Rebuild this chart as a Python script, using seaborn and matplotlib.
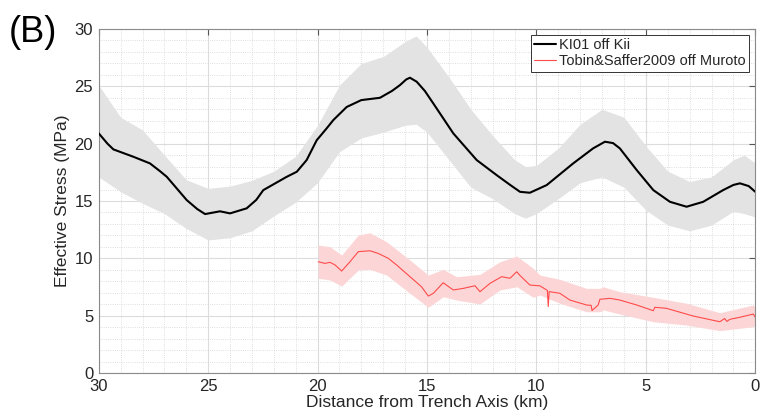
import matplotlib
matplotlib.use('Agg')
import matplotlib.pyplot as plt
from matplotlib.ticker import MultipleLocator
import seaborn as sns

# KI01 off Kii: centre line (distance km, effective stress MPa)
kii_x = [30.0, 29.6, 29.33, 28.42, 27.66, 27.2, 26.89, 25.98, 25.5, 25.14, 24.46, 24.0, 23.24,
         22.8, 22.48, 21.41, 20.95, 20.5, 20.04, 19.6, 19.28, 18.67, 18.0, 17.15, 16.6,
         16.24, 15.95, 15.78, 15.47, 15.1, 14.71, 13.8, 12.73, 11.82, 11.2, 10.75, 10.3, 9.53,
         8.32, 7.41, 6.87, 6.5, 6.19, 5.42, 4.66, 3.9, 3.14, 2.38, 1.47, 1.0, 0.7, 0.3, 0.0]
kii_y = [20.9, 20.0, 19.5, 18.86, 18.28, 17.6, 17.11, 15.08, 14.3, 13.86, 14.1, 13.92, 14.36,
         15.1, 15.95, 17.11, 17.55, 18.57, 20.3, 21.3, 22.06, 23.2, 23.8, 24.0, 24.6,
         25.1, 25.6, 25.75, 25.4, 24.6, 23.5, 20.9, 18.57, 17.26, 16.4, 15.8, 15.72, 16.39,
         18.28, 19.59, 20.17, 20.05, 19.59, 17.7, 15.95, 14.93, 14.5, 14.93, 15.95, 16.4, 16.54, 16.3, 15.8]

# KI01 uncertainty band
kii_band_x = [30, 29, 28, 27, 26, 25, 24, 23, 22, 21, 20, 19, 18, 17, 16, 15.5,
              15, 14, 13, 12, 11, 10.5, 10, 9, 8, 7, 6, 5, 4, 3, 2, 1, 0.5, 0]
kii_hi = [25.1, 22.3, 21.2, 19.0, 16.85, 16.1, 16.3, 16.8, 17.6, 18.9, 21.6, 25.1,
          27.0, 27.6, 28.9, 29.4, 28.4, 25.8, 23.0, 20.7, 18.6, 18.0, 18.1, 19.6,
          21.7, 23.0, 22.3, 19.8, 17.6, 16.7, 17.1, 18.6, 19.0, 18.3]
kii_lo = [17.1, 15.8, 14.8, 13.9, 12.6, 11.6, 11.8, 12.4, 13.7, 14.9, 16.6, 19.3,
          20.5, 21.0, 21.6, 21.7, 21.0, 18.6, 16.2, 15.2, 13.9, 13.5, 13.9, 15.2,
          16.6, 17.1, 16.2, 14.2, 12.9, 12.4, 12.9, 14.1, 13.9, 13.6]

# Tobin & Saffer 2009 off Muroto: centre line
muroto_x = [19.97, 19.66, 19.43, 19.2, 18.9, 18.52, 18.14, 17.61, 17.23, 16.77,
            16.39, 15.78, 15.25, 14.94, 14.71, 14.26, 13.8, 13.34, 12.81, 12.58,
            12.12, 11.59, 11.21, 10.9, 10.75, 10.3, 9.84, 9.5, 9.46, 9.42, 8.93,
            8.47, 7.71, 7.5, 7.46, 7.18, 7.1, 6.64, 6.19, 5.42, 4.66, 4.59, 4.06,
            2.84, 1.62, 1.4, 1.3, 1.16, 0.7, 0.09, 0.0]
muroto_y = [9.7, 9.56, 9.65, 9.42, 8.89, 9.7, 10.58, 10.66, 10.43, 10.0,
            9.42, 8.4, 7.52, 6.71, 6.95, 7.87, 7.24, 7.38, 7.61, 7.09,
            7.82, 8.4, 8.26, 8.83, 8.5, 7.67, 7.6, 7.2, 5.8, 7.1, 6.95,
            6.36, 5.93, 5.9, 5.45, 5.93, 6.43, 6.51, 6.36, 5.93, 5.43, 5.73, 5.64,
            4.97, 4.47, 4.75, 4.5, 4.68, 4.86, 5.14, 4.86]

# Muroto uncertainty band
muroto_band_x = [19.97, 19.43, 18.9, 18.14, 17.61, 16.85, 15.78, 14.94, 14.26, 13.65,
                 12.58, 11.67, 10.9, 10.15, 9.84, 8.93, 7.71, 7.1, 6.95, 6.19,
                 4.66, 3.14, 1.62, 0.09, 0.0]
muroto_hi = [11.16, 11.01, 10.29, 12.03, 12.23, 11.45, 9.85, 8.54, 9.04, 8.4,
             8.6, 9.7, 10.2, 9.13, 8.54, 8.17, 7.38, 7.38, 7.52, 7.09,
             6.6, 6.08, 5.26, 5.93, 5.7]
muroto_lo = [8.26, 8.11, 7.58, 8.98, 9.04, 8.54, 6.95, 5.73, 6.65, 6.36,
             6.02, 7.24, 7.52, 6.6, 6.8, 6.08, 5.34, 5.34, 5.5, 5.14,
             4.47, 4.18, 3.69, 4.04, 4.2]

legend_labels = ['KI01 off Kii', 'Tobin&Saffer2009 off Muroto']

sns.set_theme(style='whitegrid')
plt.rcParams['font.family'] = ['Liberation Sans', 'DejaVu Sans']

fig = plt.figure(figsize=(7.63, 4.19), dpi=100)
ax = fig.add_axes([0.1294, 0.1098, 0.8605, 0.821])

ax.fill_between(kii_band_x, kii_lo, kii_hi, color='#e3e3e3', linewidth=0, zorder=2)
ax.fill_between(muroto_band_x, muroto_lo, muroto_hi, color='#fcd6d6', linewidth=0, zorder=2)

sns.lineplot(x=kii_x, y=kii_y, ax=ax, color='black', linewidth=1.5, sort=False,
             label=legend_labels[0], zorder=3)
sns.lineplot(x=muroto_x, y=muroto_y, ax=ax, color='#ff4a4a', linewidth=0.8, sort=False,
             label=legend_labels[1], zorder=3)

ax.set_xlim(30, 0)
ax.set_ylim(0, 30)
ax.xaxis.set_major_locator(MultipleLocator(5))
ax.yaxis.set_major_locator(MultipleLocator(5))
ax.xaxis.set_minor_locator(MultipleLocator(1))
ax.yaxis.set_minor_locator(MultipleLocator(1))

ax.grid(which='major', color='#dcdcdc', linewidth=0.8, linestyle='-')
ax.grid(which='minor', color='#d4d4d4', linewidth=0.6, linestyle=':')
ax.set_axisbelow(True)

for s in ax.spines.values():
    s.set_color('#8a8a8a')
    s.set_linewidth(0.8)

ax.tick_params(which='major', direction='in', length=4, width=0.8, color='#555555',
               top=True, right=True, labelsize=12, labelcolor='#262626', pad=4)
ax.tick_params(which='minor', length=0)

ax.set_xlabel('Distance from Trench Axis (km)', fontsize=12.5, color='#262626', labelpad=1)
ax.set_ylabel('Effective Stress (MPa)', fontsize=12.5, color='#262626', labelpad=3)

leg = ax.legend(loc='upper right', fontsize=10.5, frameon=True, fancybox=False,
                edgecolor='#333333', framealpha=1, handlelength=1.5, handletextpad=0.2,
                borderpad=0.25, labelspacing=0.1, borderaxespad=0.4)
leg.get_frame().set_linewidth(0.7)

fig.text(0.012, 0.922, '(B)', fontsize=26, color='black', va='center', ha='left')

fig.savefig('out.png', dpi=100)
